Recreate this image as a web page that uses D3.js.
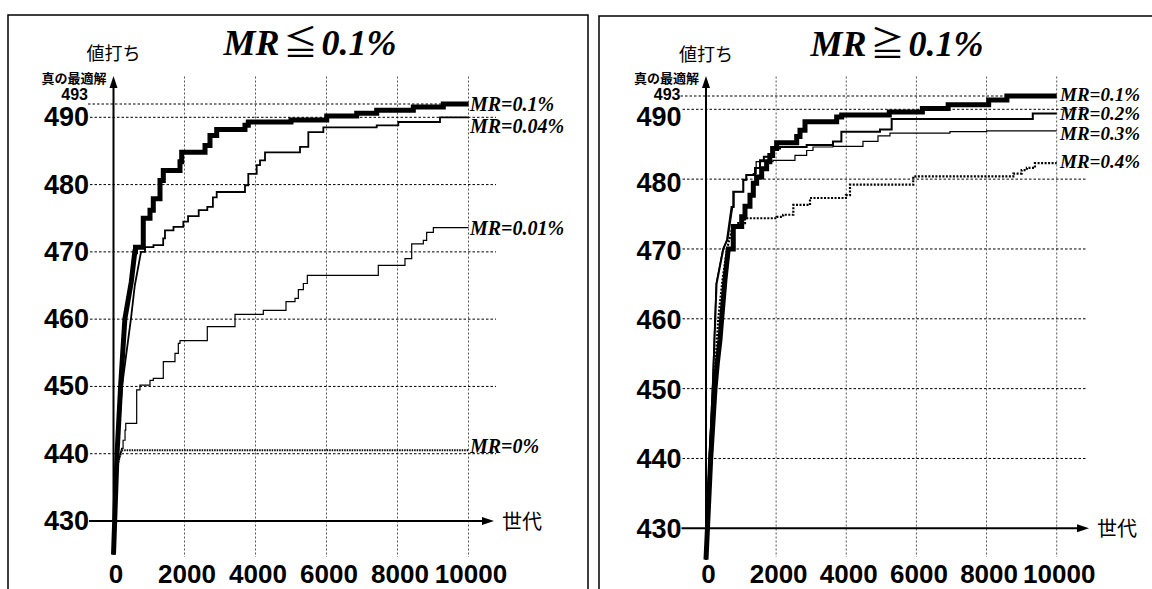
<!DOCTYPE html>
<html><head><meta charset="utf-8">
<script src="https://cdn.jsdelivr.net/npm/d3@7"></script>
<style>body{margin:0;background:#fff}svg{display:block}</style>
</head><body>
<svg id="c" width="1152" height="589"></svg>
<script>
// ---------- data ----------
const genTicks = [0, 2000, 4000, 6000, 8000, 10000];
const valTicks = [430, 440, 450, 460, 470, 480, 490];
const optimumTick = 493;
const titles = ["MR≦0.1%", "MR≧0.1%"];
const yAxisTitle = "値打ち";
const optimumTitle = "真の最適解";
const xAxisTitle = "世代";
const leftLabels = ["MR=0.1%", "MR=0.04%", "MR=0.01%", "MR=0%"];
const rightLabels = ["MR=0.1%", "MR=0.2%", "MR=0.3%", "MR=0.4%"];

// left panel series: [generation, value]
const L_mr01 = [[0,425],[100,440],[200,450],[320,460],[500,465.5],[600,470],[620,470.7],[839,475],[1028,476.2],[1121,477.9],[1310,480.6],[1403,482.1],[1873,483.4],[1921,484.8],[2578,485.8],[2718,487.3],[2907,488.2],[3704,488.8],[3797,489.3],[5000,489.6],[6006,490.3],[6851,490.9],[7414,491.6],[8446,492.3],[9290,493],[10000,493]];
const L_mr004 = [[0,425],[110,440],[240,450],[490,460],[600,465],[775,470],[887,470.7],[1126,471],[1400,472],[1450,473.2],[1690,473.7],[1967,474.5],[2100,475.3],[2400,476.2],[2642,476.7],[2800,478.1],[2907,478.9],[3704,479.9],[3797,481.6],[4034,482.9],[4127,483.6],[4268,484.8],[5254,485.6],[5488,487.8],[5911,488.5],[7414,488.8],[8023,489.3],[9197,490],[10000,490]];
const L_mr001 = [[0,425],[100,438],[230,440.8],[270,442],[325,443.5],[345,444.5],[653,449.5],[745,450.2],[1028,450.9],[1121,451.2],[1403,453.7],[1732,454.9],[1826,456.4],[1873,456.8],[2642,458.9],[3423,460.7],[4220,461.3],[4859,462.6],[5113,463.1],[5207,464.4],[5348,465.3],[5460,466.5],[7459,468],[8211,469],[8400,471.2],[8727,471.7],[8821,472.9],[9010,473.6],[10000,473.6]];
const L_mr0 = [[0,425],[100,438],[230,440.5],[10000,440.5]];

// right panel series
const R_mr01 = [[0,425.5],[134,440],[257,450],[322,453.6],[399,457],[447,460],[541,465.6],[635,470],[778,473.2],[1018,474.6],[1112,476.1],[1254,477.7],[1349,479.4],[1444,480.3],[1587,481.5],[1729,482.5],[1820,483.4],[1900,484.4],[2014,485.2],[2586,486.1],[2680,487],[2823,488.2],[3726,488.9],[3869,489.2],[5226,489.6],[6170,490.2],[6905,491],[8060,492.1],[8580,493],[10000,493]];
const R_mr02 = [[0,425.5],[100,440],[200,451],[300,465],[494,470],[600,471.3],[730,476],[778,478.2],[1064,479.9],[1150,480.6],[1397,481.6],[1540,482.7],[1650,483.2],[1930,484.4],[2110,484.6],[2870,484.9],[3620,485.4],[3860,486.8],[4961,487.1],[5294,488.6],[9318,489.4],[10000,489.4]];
const R_mr03 = [[0,425.5],[90,440],[190,451],[290,465],[480,470],[620,471.3],[760,476],[800,478.2],[1064,479.9],[1150,480.6],[1348,480.8],[1430,482.5],[1910,482.7],[2537,483.4],[2870,484.1],[3050,484.6],[3620,484.7],[4476,485.4],[4904,486.2],[5246,486.6],[6956,486.8],[8003,486.9],[10000,486.9]];
const R_mr04 = [[0,425.5],[120,440],[250,452],[350,460],[480,466],[600,470],[750,473],[921,473.7],[1112,474.4],[2015,474.6],[2200,474.9],[2490,476.3],[2965,477.3],[3990,477.7],[4106,479.2],[5910,480.4],[8762,480.8],[9000,481.3],[9150,481.6],[9380,482.3],[10000,482.3]];

// ---------- layout ----------
const svg = d3.select("#c");
const FONT_SANS = "'Liberation Sans', Arial, sans-serif";
const FONT_SERIF = "'Liberation Serif', 'Times New Roman', serif";
const FONT_CJK = "'Noto Sans CJK JP', 'Noto Sans CJK SC', sans-serif";

const panels = [
  { title: titles[0], labels: leftLabels, series: [L_mr01, L_mr004, L_mr001, L_mr0],
    rise: [5, 5, 2, 2],
    styles: [{w:5},{w:1.8},{w:1.2},{w:2, dash:"1.5,1"}],
    labelDy: [7, 15.7, 7, 3], labelSize: 20,
    tickShift: v => 8.5,
    border: [8, 15, 580, 640], axisX: 113.5, endX: 468.5, yPx: [521, 117.3, 104],
    titleX: 310, titleY: 55, hRight: 496, xArrowTip: 494, labelX: 470,
    yTitleY: 60, optTitleY: 83, optLabelY: 100 },
  { title: titles[1], labels: rightLabels, series: [R_mr01, R_mr02, R_mr03, R_mr04],
    rise: [7, 6, 6, 6],
    styles: [{w:5},{w:2},{w:1.2},{w:2.2, dash:"2,1.5"}],
    labelDy: [5, 6.7, 9, 4.7], labelSize: 19,
    tickShift: v => (v === 490 ? 16.5 : v === 480 ? 12.4 : v === 470 ? 10.7 : 9.5),
    border: [599, 16, 580, 640], axisX: 706, endX: 1056.7, yPx: [528.3, 109.3, 96],
    titleX: 897, titleY: 56, hRight: 1086, xArrowTip: 1089, labelX: 1060,
    yTitleY: 61, optTitleY: 83, optLabelY: 99.5 }
];

// staircase path: first `rise` segments straight, then step-after
function stairs(s, rise) {
  const pts = [s[0]];
  for (let i = 1; i < s.length; i++) {
    if (i > rise) pts.push([s[i][0], s[i - 1][1]]);
    pts.push(s[i]);
  }
  return pts;
}

panels.forEach(p => {
  const g = svg.append("g");
  const x = d3.scaleLinear().domain([0, 10000]).range([p.axisX, p.endX]);
  const y = d3.scaleLinear().domain([430, 490, optimumTick]).range(p.yPx);
  const labRight = p.axisX - 24.5;

  // border
  g.append("rect").attr("x", p.border[0]).attr("y", p.border[1])
    .attr("width", p.border[2]).attr("height", p.border[3])
    .attr("fill", "none").attr("stroke", "#000").attr("stroke-width", 1.5);

  // vertical grid
  g.selectAll(".vg").data(genTicks.slice(1)).join("line")
    .attr("x1", d => x(d)).attr("x2", d => x(d))
    .attr("y1", 76.5).attr("y2", 557)
    .attr("stroke", "#555").attr("stroke-width", 1).attr("stroke-dasharray", "2,2");

  // horizontal grid
  g.selectAll(".hg").data(valTicks.slice(1)).join("line")
    .attr("x1", labRight + 1).attr("x2", p.hRight)
    .attr("y1", d => y(d)).attr("y2", d => y(d))
    .attr("stroke", "#000").attr("stroke-width", 1).attr("stroke-dasharray", "2.5,2");
  g.append("line").attr("x1", labRight - 1).attr("x2", p.endX)
    .attr("y1", y(optimumTick)).attr("y2", y(optimumTick))
    .attr("stroke", "#000").attr("stroke-width", 1).attr("stroke-dasharray", "2.5,2");

  // y tick labels via axis
  const ya = g.append("g").attr("transform", `translate(${p.axisX},0)`)
    .call(d3.axisLeft(y).tickValues(valTicks).tickSize(0).tickPadding(24.5));
  ya.select(".domain").remove();
  ya.selectAll("text").attr("dy", d => p.tickShift(d))
    .style("font-family", FONT_SANS).style("font-weight", "bold").style("font-size", "27px").attr("fill", "#000");

  g.append("text").attr("x", labRight - 1).attr("y", p.optLabelY).attr("text-anchor", "end")
    .style("font-family", FONT_SANS).style("font-weight", "bold").style("font-size", "16px")
    .text(optimumTick);

  // x tick labels via axis
  const xa = g.append("g").attr("transform", `translate(2,583)`)
    .call(d3.axisBottom(x).tickValues(genTicks).tickSize(0).tickFormat(d3.format("d")));
  xa.select(".domain").remove();
  xa.selectAll("text").attr("y", 0).attr("dy", 0)
    .style("font-family", FONT_SANS).style("font-weight", "bold").style("font-size", "26px").attr("fill", "#000");

  // series
  const line = d3.line().x(d => x(d[0])).y(d => y(d[1]));
  p.series.forEach((s, i) => {
    const st = p.styles[i];
    g.append("path").attr("d", line(stairs(s, p.rise[i]))).attr("fill", "none").attr("stroke", "#000")
      .attr("stroke-width", st.w).attr("stroke-dasharray", st.dash || null)
      .attr("stroke-linejoin", "miter");
  });

  // axes lines and arrows
  const y0 = y(430);
  g.append("line").attr("x1", p.axisX).attr("x2", p.axisX).attr("y1", y0).attr("y2", 84)
    .attr("stroke", "#000").attr("stroke-width", 2);
  g.append("path").attr("d", `M${p.axisX},76 L${p.axisX - 4},88 L${p.axisX + 4},88 Z`).attr("fill", "#000");
  g.append("line").attr("x1", labRight).attr("x2", p.xArrowTip - 6).attr("y1", y0).attr("y2", y0)
    .attr("stroke", "#000").attr("stroke-width", 2);
  g.append("path").attr("d", `M${p.xArrowTip},${y0} L${p.xArrowTip - 12},${y0 - 4} L${p.xArrowTip - 12},${y0 + 4} Z`).attr("fill", "#000");

  // axis titles
  g.append("text").attr("x", p.xArrowTip + 8).attr("y", y0 + 8)
    .style("font-family", FONT_CJK).style("font-size", "20px").text(xAxisTitle);
  g.append("text").attr("x", p.axisX).attr("y", p.yTitleY).attr("text-anchor", "middle")
    .style("font-family", FONT_CJK).style("font-size", "18px").text(yAxisTitle);
  g.append("text").attr("x", p.axisX - 7).attr("y", p.optTitleY).attr("text-anchor", "end")
    .style("font-family", FONT_CJK).style("font-weight", "bold").style("font-size", "13px").text(optimumTitle);

  // title: relation sign upright and larger
  const parts = p.title.match(/^(.*?)([≦≧])(.*)$/);
  const t = g.append("text").attr("x", p.titleX).attr("y", p.titleY).attr("text-anchor", "middle")
    .style("font-family", FONT_SERIF).style("font-weight", "bold").style("font-style", "italic")
    .style("font-size", "36px");
  t.append("tspan").text(parts[1]);
  t.append("tspan").attr("dx", 4).style("font-family", FONT_CJK).style("font-style", "normal")
    .style("font-weight", "normal").style("font-size", "34px").text(parts[2]);
  t.append("tspan").attr("dx", 4).text(parts[3]);

  // series labels
  p.series.forEach((s, i) => {
    const last = s[s.length - 1];
    g.append("text").attr("x", p.labelX).attr("y", y(last[1]) + p.labelDy[i])
      .style("font-family", FONT_SERIF).style("font-weight", "bold").style("font-style", "italic")
      .style("font-size", p.labelSize + "px").text(p.labels[i]);
  });
});
</script>
</body></html>
